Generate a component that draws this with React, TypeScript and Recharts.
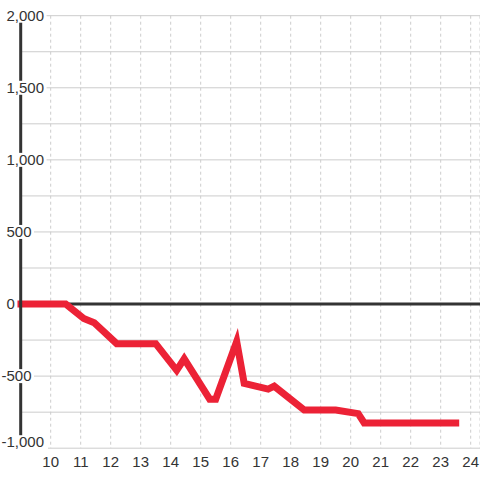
import React from "react";
import {
    LineChart,
    Line,
    XAxis,
    YAxis,
    CartesianGrid,
    ReferenceLine,
} from "recharts";

// hour of day and running total
const hours = [9, 10.5, 11.1, 11.45, 12.2, 13.5, 14.2, 14.45, 15.3, 15.5, 16.2, 16.45, 17.25, 17.45, 18.45, 19.5, 20.25, 20.45, 23.5];
const totals = [0, 0, -100, -130, -275, -275, -460, -380, -660, -660, -260, -550, -590, -570, -735, -735, -760, -825, -825];

const xTicks = [10, 11, 12, 13, 14, 15, 16, 17, 18, 19, 20, 21, 22, 23, 24];
const yTicks = [-1000, -750, -500, -250, 0, 250, 500, 750, 1000, 1250, 1500, 1750, 2000];
const yLabelled = [-1000, -500, 0, 500, 1000, 1500, 2000];

const data = hours.map((h, i) => ({ x: h, total: totals[i] }));

const FONT = "'Liberation Sans', Arial, sans-serif";

const fmt = (v: number) => v.toLocaleString("en-US");

// rough text width at 15px
const textWidth = (s: string) => {
    let w = 0;
    for (const c of s) {
        if (c === ",") w += 4.2;
        else if (c === "-") w += 5;
        else w += 8.34;
    }
    return w;
};

const YTick = (props: any) => {
    const { y, payload } = props;
    const v = payload.value as number;
    if (!yLabelled.includes(v)) return <g />;
    const label = fmt(v);
    const x0 = v < 0 ? 1.5 : 6.5;
    const w = textWidth(label);
    // bottom label sits a little above its gridline and hides the start of it
    const bottom = v === -1000;
    const cy = bottom ? y - 6 : y;
    const rectTop = cy - 7;
    const rectH = bottom ? 16 : 14;
    const rectW = bottom ? 48 : x0 + w + 2.5;
    return (
        <g>
            <rect x={0} y={rectTop} width={rectW} height={rectH} fill="#fff" />
            <text
                x={x0}
                y={cy}
                dy="0.35em"
                textAnchor="start"
                fontSize={15}
                fontFamily={FONT}
                fill="#333"
            >
                {label}
            </text>
        </g>
    );
};

const XTick = (props: any) => {
    const { x, payload } = props;
    return (
        <text
            x={x}
            y={461.5}
            dy="0.35em"
            textAnchor="middle"
            fontSize={15}
            fontFamily={FONT}
            fill="#333"
        >
            {payload.value}
        </text>
    );
};

export default function App() {
    return (
        <div style={{ position: "absolute", left: 0, top: 0, width: 480, height: 480, background: "#fff" }}>
            <LineChart
                width={480}
                height={480}
                data={data}
                margin={{ top: 15.7, right: 0, bottom: 0, left: 0 }}
            >
                <CartesianGrid vertical={false} stroke="#ccc" strokeWidth={1} />
                <CartesianGrid horizontal={false} stroke="#ccc" strokeDasharray="3 3" />
                <XAxis
                    dataKey="x"
                    type="number"
                    domain={[9, 24.31]}
                    ticks={xTicks}
                    axisLine={false}
                    tickLine={false}
                    height={31.8}
                    tick={<XTick />}
                    interval={0}
                />
                <ReferenceLine y={0} stroke="#333" strokeWidth={3} />
                <YAxis
                    type="number"
                    domain={[-1000, 2000]}
                    ticks={yTicks}
                    width={20.7}
                    axisLine={{ stroke: "#333", strokeWidth: 3 }}
                    tickLine={false}
                    tick={<YTick />}
                    interval={0}
                />
                <Line
                    dataKey="total"
                    type="linear"
                    stroke="#ec2236"
                    strokeWidth={7}
                    strokeLinecap="square"
                    dot={false}
                    isAnimationActive={false}
                />
            </LineChart>
        </div>
    );
}
